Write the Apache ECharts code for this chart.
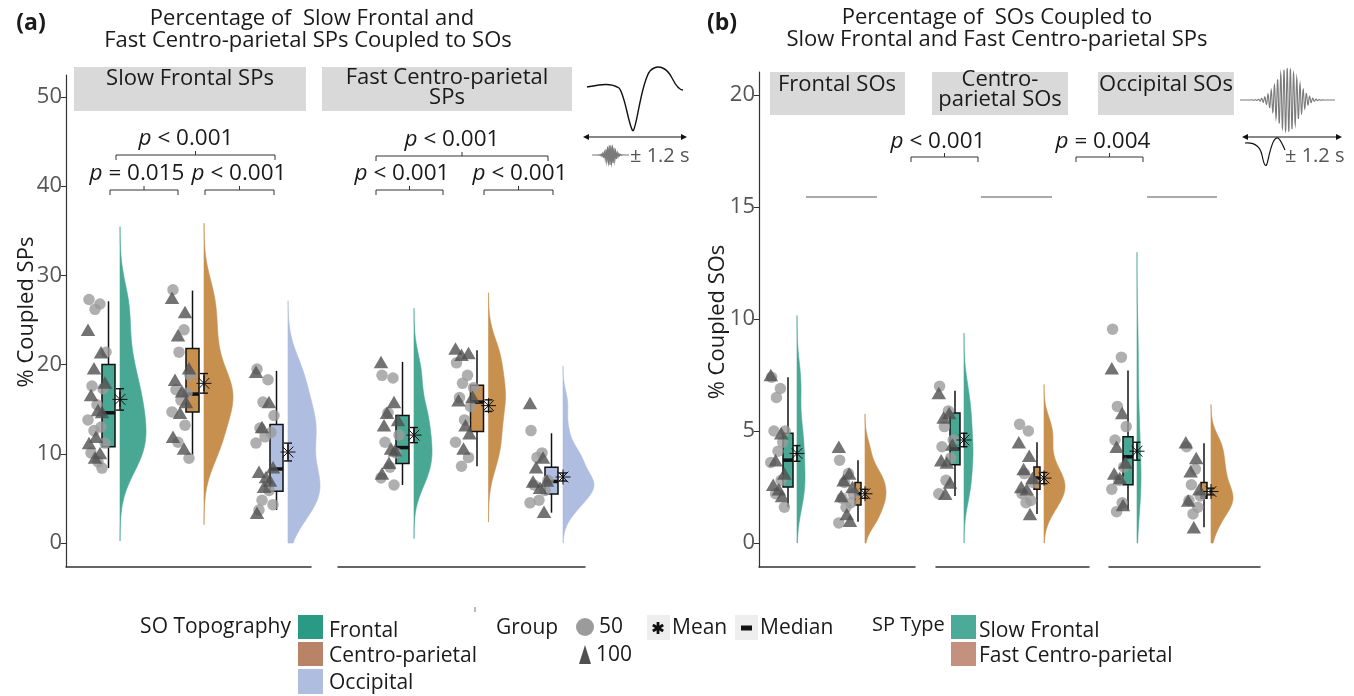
<!DOCTYPE html>
<html><head><meta charset="utf-8">
<style>html,body{margin:0;padding:0;background:#fff}#c{width:1354px;height:696px}</style>
<script src="https://cdn.jsdelivr.net/npm/echarts@6.0.0/dist/echarts.min.js"></script>
</head><body><div id="c"></div>
<script>
// ================= DATA =================
const panelAFacets = ['Slow Frontal SPs', 'Fast Centro-parietal SPs'];
const panelACategories = ['Frontal', 'Centro-parietal', 'Occipital'];
const panelBFacets = ['Frontal SOs', 'Centro-parietal SOs', 'Occipital SOs'];
const panelBCategories = ['Slow Frontal', 'Fast Centro-parietal'];
const yTicksA = [0, 10, 20, 30, 40, 50];
const yTicksB = [0, 5, 10, 15, 20];

// Panel (a), facet "Slow Frontal SPs": % coupled SPs per participant (Group 50 = circles, Group 100 = triangles)
const aSF_Frontal_g50 = [27.3, 26.8, 26.2, 21.4, 17.6, 17.3, 15.5, 13.8, 13.0, 12.6, 11.2, 10.1, 9.1, 8.4];
const aSF_Frontal_g100 = [23.9, 21.4, 19.6, 18.0, 16.6, 14.9, 14.7, 11.9, 11.2, 10.1, 9.6];
const aSF_Centro_g50 = [28.4, 23.9, 21.4, 18.8, 17.2, 16.8, 16.0, 14.7, 13.2, 11.3, 9.5];
const aSF_Centro_g100 = [27.5, 25.9, 23.3, 19.6, 18.3, 17.0, 15.8, 14.6, 11.9, 10.6];
const aSF_Occipital_g50 = [19.5, 18.3, 15.8, 14.3, 12.9, 12.4, 11.9, 11.2, 5.9, 4.8, 4.3, 3.7];
const aSF_Occipital_g100 = [19.2, 15.8, 13.0, 8.5, 8.0, 7.4, 7.0, 6.3, 3.4];
// Panel (a), facet "Fast Centro-parietal SPs"
const aFC_Frontal_g50 = [18.8, 18.5, 14.6, 12.1, 11.3, 10.1, 8.5, 7.3, 6.5];
const aFC_Frontal_g100 = [20.3, 15.8, 14.6, 13.8, 13.2, 10.6, 10.4, 9.0, 7.8];
const aFC_Centro_g50 = [20.2, 18.8, 17.9, 17.4, 16.3, 15.3, 13.8, 11.3, 9.6, 8.6];
const aFC_Centro_g100 = [21.8, 21.3, 21.1, 16.4, 16.0, 13.2, 12.3, 10.6];
const aFC_Occipital_g50 = [12.6, 10.1, 9.6, 7.0, 6.5, 5.9, 4.8, 4.5];
const aFC_Occipital_g100 = [15.7, 9.6, 8.5, 7.0, 6.9, 6.2, 3.5];
// box stats [lower whisker, Q1, median, Q3, upper whisker], mean and SE
const aSF_box = [[8.4, 10.8, 14.6, 20.0, 27.1], [9.9, 14.7, 16.7, 21.8, 28.3], [3.7, 5.8, 8.3, 13.3, 19.3]];
const aFC_box = [[6.5, 8.9, 10.7, 14.3, 20.3], [8.6, 12.5, 15.8, 17.7, 21.6], [3.4, 5.5, 6.9, 8.5, 12.3]];
const aSF_mean = [16.1, 17.9, 10.2];
const aSF_se = [1.2, 1.1, 1.0];
const aFC_mean = [12.1, 15.4, 7.4];
const aFC_se = [0.85, 0.65, 0.45];

// Panel (b): % coupled SOs
const bF_Slow_g50 = [7.4, 6.9, 6.5, 5.0, 5.0, 4.5, 4.1, 3.6, 2.8, 2.2, 1.6];
const bF_Slow_g100 = [7.5, 4.9, 3.7, 3.1, 2.6, 2.4, 2.1];
const bF_Fast_g50 = [3.7, 3.1, 2.7, 2.2, 2.0, 1.8, 1.6, 0.9];
const bF_Fast_g100 = [4.3, 3.1, 2.8, 2.5, 2.1, 1.3, 1.0];
const bC_Slow_g50 = [7.0, 5.9, 5.2, 4.6, 4.3, 3.8, 2.8, 2.2];
const bC_Slow_g100 = [6.7, 5.8, 5.6, 4.4, 3.7, 3.6, 2.7, 2.2];
const bC_Fast_g50 = [5.3, 5.0, 3.1, 2.7, 2.2, 1.9, 1.8];
const bC_Fast_g100 = [4.5, 3.9, 3.3, 2.9, 2.5, 2.4, 1.3];
const bO_Slow_g50 = [9.55, 8.3, 6.1, 5.2, 4.6, 3.4, 2.8, 2.4, 1.8, 1.4];
const bO_Slow_g100 = [7.8, 5.8, 4.3, 3.6, 3.1, 2.9, 1.7];
const bO_Fast_g50 = [4.3, 3.3, 2.6, 2.1, 1.9, 1.6, 1.3];
const bO_Fast_g100 = [4.5, 3.8, 3.2, 2.4, 1.9, 0.7];
const bF_box = [[1.6, 2.5, 3.7, 4.9, 7.4], [0.95, 1.7, 2.2, 2.7, 3.7]];
const bC_box = [[2.1, 3.5, 4.2, 5.8, 6.8], [1.3, 2.4, 2.9, 3.4, 4.5]];
const bO_box = [[1.5, 2.6, 3.85, 4.75, 7.7], [0.7, 2.0, 2.05, 2.7, 4.45]];
const bF_mean = [4.0, 2.2], bF_se = [0.35, 0.2];
const bC_mean = [4.6, 2.9], bC_se = [0.3, 0.25];
const bO_mean = [4.1, 2.3], bO_se = [0.4, 0.15];

// ================= STYLE / LAYOUT =================
const FONT = "'Open Sans', 'DejaVu Sans', sans-serif";
const TEAL = '#48A893', ORANGE = '#C8904F', BLUE = '#AEBDE0';
const CIRC = '#9b9b9b', TRI = '#505050';
const JIT = [-0.8, 0.3, -0.2, 0.9, -0.5, 0.6, 0.0, -0.9, 0.4, -0.3, 0.8, -0.6, 0.1, 0.5, -0.1];
const BW_ADJUST = 1.0;

function grp(g50, g100, box, mean, se, color) { return { g50, g100, box, mean, se, color }; }

const facets = [
  { left: 66, right: 311, top: 75, bottom: 567, ymin: -2.69, ymax: 52.47, ticks: yTicksA, showY: true,
    catPx: [120, 204, 288], vw: [26, 29, 32], boxW: [13, 13, 13], boxGap: 5, ptOff: -23, jit: 10, cap: 4, star: 7.5,
    groups: [grp(aSF_Frontal_g50, aSF_Frontal_g100, aSF_box[0], aSF_mean[0], aSF_se[0], TEAL),
             grp(aSF_Centro_g50, aSF_Centro_g100, aSF_box[1], aSF_mean[1], aSF_se[1], ORANGE),
             grp(aSF_Occipital_g50, aSF_Occipital_g100, aSF_box[2], aSF_mean[2], aSF_se[2], BLUE)] },
  { left: 338, right: 585, top: 75, bottom: 567, ymin: -2.69, ymax: 52.47, ticks: yTicksA, showY: false,
    catPx: [414, 488.5, 563], vw: [18, 17, 31], boxW: [13, 13, 13], boxGap: 5, ptOff: -24, jit: 10, cap: 4, star: 7.5,
    groups: [grp(aFC_Frontal_g50, aFC_Frontal_g100, aFC_box[0], aFC_mean[0], aFC_se[0], TEAL),
             grp(aFC_Centro_g50, aFC_Centro_g100, aFC_box[1], aFC_mean[1], aFC_se[1], ORANGE),
             grp(aFC_Occipital_g50, aFC_Occipital_g100, aFC_box[2], aFC_mean[2], aFC_se[2], BLUE)] },
  { left: 759, right: 915, top: 72, bottom: 567, ymin: -1.07, ymax: 21.03, ticks: yTicksB, showY: true,
    catPx: [797, 865], vw: [8, 21], boxW: [10, 6], boxGap: 4, ptOff: -19, jit: 8, cap: 3.5, star: 7.5,
    groups: [grp(bF_Slow_g50, bF_Slow_g100, bF_box[0], bF_mean[0], bF_se[0], TEAL),
             grp(bF_Fast_g50, bF_Fast_g100, bF_box[1], bF_mean[1], bF_se[1], ORANGE)] },
  { left: 936, right: 1089, top: 72, bottom: 567, ymin: -1.07, ymax: 21.03, ticks: yTicksB, showY: false,
    catPx: [964, 1044], vw: [9, 21], boxW: [10, 6], boxGap: 4, ptOff: -18, jit: 8, cap: 3.5, star: 7.5,
    groups: [grp(bC_Slow_g50, bC_Slow_g100, bC_box[0], bC_mean[0], bC_se[0], TEAL),
             grp(bC_Fast_g50, bC_Fast_g100, bC_box[1], bC_mean[1], bC_se[1], ORANGE)] },
  { left: 1109, right: 1260, top: 72, bottom: 567, ymin: -1.07, ymax: 21.03, ticks: yTicksB, showY: false,
    catPx: [1137, 1211], vw: [4, 22], boxW: [10, 6], boxGap: 4, ptOff: -18, jit: 8, cap: 3.5, star: 7.5,
    groups: [grp(bO_Slow_g50, bO_Slow_g100, bO_box[0], bO_mean[0], bO_se[0], TEAL),
             grp(bO_Fast_g50, bO_Fast_g100, bO_box[1], bO_mean[1], bO_se[1], ORANGE)] }
];

// ---- kernel density (gaussian, nrd0 bandwidth, full tails, cut at 0) ----
function quantile(s, p) { const h = (s.length - 1) * p, lo = Math.floor(h); return s[lo] + (h - lo) * ((s[Math.min(lo + 1, s.length - 1)]) - s[lo]); }
function kde(vals) {
  const n = vals.length, s = vals.slice().sort((a, b) => a - b);
  const m = s.reduce((a, b) => a + b, 0) / n;
  const sd = Math.sqrt(s.reduce((a, b) => a + (b - m) * (b - m), 0) / (n - 1));
  const iqr = quantile(s, 0.75) - quantile(s, 0.25);
  let lo = Math.min(sd, iqr / 1.34); if (!(lo > 0)) lo = sd;
  const bw = BW_ADJUST * 0.9 * lo * Math.pow(n, -0.2);
  const from = Math.max(0, s[0] - 3 * bw), to = s[n - 1] + 3 * bw;
  const out = []; const N = 220;
  for (let i = 0; i <= N; i++) {
    const y = from + (to - from) * i / N;
    let d = 0; for (const v of s) { const z = (y - v) / bw; d += Math.exp(-0.5 * z * z); }
    out.push([y, d / (n * bw * Math.sqrt(2 * Math.PI))]);
  }
  return out;
}

const grids = [], xAxes = [], yAxes = [], series = [];
facets.forEach((f, i) => {
  const n = f.catPx.length;
  const unit = (f.catPx[n - 1] - f.catPx[0]) / (n - 1);
  const xmin = 1 - (f.catPx[0] - f.left) / unit, xmax = 1 + (f.right - f.catPx[0]) / unit;
  f.groups.forEach((g) => { g.kde = kde(g.g50.concat(g.g100)); g.dmax = Math.max(...g.kde.map(p => p[1])); });
  grids.push({ left: f.left, top: f.top, width: f.right - f.left, height: f.bottom - f.top });
  xAxes.push({ gridIndex: i, type: 'value', min: xmin, max: xmax,
    axisLine: { show: true, onZero: false, lineStyle: { color: '#333', width: 1.5 } },
    axisTick: { show: false }, axisLabel: { show: false }, splitLine: { show: false } });
  yAxes.push({ gridIndex: i, type: 'value', min: f.ymin, max: f.ymax, show: f.showY,
    axisLine: { show: true, onZero: false, lineStyle: { color: '#333', width: 1.2 } },
    axisTick: { show: true, length: 5, customValues: f.ticks, lineStyle: { color: '#333' } },
    axisLabel: { customValues: f.ticks, color: '#555', fontSize: 22, margin: 4, fontFamily: FONT },
    splitLine: { show: false } });
  const catData = f.groups.map((g, k) => [k + 1, 0]);
  // half violins
  series.push({ type: 'custom', xAxisIndex: i, yAxisIndex: i, z: 1, silent: true, data: catData,
    renderItem: (params, api) => {
      const k = params.dataIndex, g = f.groups[k], x = k + 1, w = f.vw[k];
      const poly = g.kde.map(([y, d]) => { const p = api.coord([x, y]); return [p[0] + w * d / g.dmax, p[1]]; });
      poly.push(api.coord([x, g.kde[g.kde.length - 1][0]]));
      poly.push(api.coord([x, g.kde[0][0]]));
      return { type: 'polygon', shape: { points: poly }, style: { fill: g.color, stroke: g.color, lineWidth: 0.6 } };
    } });
  // boxplots
  series.push({ type: 'custom', xAxisIndex: i, yAxisIndex: i, z: 2, silent: true, data: catData,
    renderItem: (params, api) => {
      const k = params.dataIndex, g = f.groups[k], x = k + 1, b = g.box;
      const base = api.coord([x, 0])[0];
      const right = base - f.boxGap, left = right - f.boxW[k], cx = (left + right) / 2;
      const py = v => api.coord([x, v])[1];
      const ls = { stroke: '#111', lineWidth: 1.5 };
      return { type: 'group', children: [
        { type: 'line', shape: { x1: cx, y1: py(b[4]), x2: cx, y2: py(b[3]) }, style: ls },
        { type: 'line', shape: { x1: cx, y1: py(b[1]), x2: cx, y2: py(b[0]) }, style: ls },
        { type: 'rect', shape: { x: left, y: py(b[3]), width: right - left, height: py(b[1]) - py(b[3]) }, style: { fill: g.color, stroke: '#111', lineWidth: 1.5 } },
        { type: 'line', shape: { x1: left, y1: py(b[2]), x2: right, y2: py(b[2]) }, style: { stroke: '#111', lineWidth: 3.5 } }
      ] };
    } });
  // raw points
  const circ = [], tri = [];
  f.groups.forEach((g, k) => {
    g.g50.forEach((v, j) => circ.push([k + 1 + (f.ptOff + JIT[j % JIT.length] * f.jit) / unit, v]));
    g.g100.forEach((v, j) => tri.push([k + 1 + (f.ptOff + JIT[(j + 7) % JIT.length] * f.jit) / unit, v]));
  });
  series.push({ type: 'scatter', xAxisIndex: i, yAxisIndex: i, z: 3, silent: true, symbol: 'circle', symbolSize: 11.5,
    itemStyle: { color: CIRC }, data: circ });
  series.push({ type: 'scatter', xAxisIndex: i, yAxisIndex: i, z: 3, silent: true, symbol: 'triangle', symbolSize: [14.5, 12.5],
    itemStyle: { color: TRI }, data: tri });
  // mean +- SE with asterisk
  series.push({ type: 'custom', xAxisIndex: i, yAxisIndex: i, z: 4, silent: true, data: catData,
    renderItem: (params, api) => {
      const k = params.dataIndex, g = f.groups[k], x = k + 1;
      const c = api.coord([x, g.mean]);
      const t = api.coord([x, g.mean + g.se])[1], bt = api.coord([x, g.mean - g.se])[1];
      const s = { stroke: '#111', lineWidth: 1.4 }, r = f.star, q = r * 0.72, cp = f.cap;
      const th = { stroke: '#111', lineWidth: 1 };
      return { type: 'group', children: [
        { type: 'line', shape: { x1: c[0], y1: t, x2: c[0], y2: bt }, style: s },
        { type: 'line', shape: { x1: c[0] - cp, y1: t, x2: c[0] + cp, y2: t }, style: s },
        { type: 'line', shape: { x1: c[0] - cp, y1: bt, x2: c[0] + cp, y2: bt }, style: s },
        { type: 'line', shape: { x1: c[0] - r, y1: c[1], x2: c[0] + r, y2: c[1] }, style: th },
        { type: 'line', shape: { x1: c[0], y1: c[1] - r, x2: c[0], y2: c[1] + r }, style: th },
        { type: 'line', shape: { x1: c[0] - q, y1: c[1] - q, x2: c[0] + q, y2: c[1] + q }, style: th },
        { type: 'line', shape: { x1: c[0] - q, y1: c[1] + q, x2: c[0] + q, y2: c[1] - q }, style: th }
      ] };
    } });
});

// ================= ANNOTATIONS / TEXT =================
const G = [];
function T(x, y, text, o = {}) {
  const size = o.size || 21;
  G.push({ type: 'text', x, y, rotation: o.rot || 0, z: 100, silent: true,
    style: { text, fill: o.color || '#1a1a1a', fontSize: size, fontFamily: FONT, fontWeight: o.weight || 'normal',
      align: o.align || 'center', verticalAlign: 'middle', textAlign: o.align || 'center', textVerticalAlign: 'middle',
      rich: { i: { fontStyle: 'italic', fontSize: size, fontFamily: FONT, fill: o.color || '#1a1a1a' } } } });
}
function R(x, y, w, h, fill) { G.push({ type: 'rect', z: 90, silent: true, shape: { x, y, width: w, height: h }, style: { fill } }); }
function L(pts, stroke = '#333', lw = 1) { G.push({ type: 'polyline', z: 100, silent: true, shape: { points: pts }, style: { stroke, lineWidth: lw, fill: null } }); }
function B(x1, y1, cx1, cy1, cx2, cy2, x2, y2, lw) {
  G.push({ type: 'bezierCurve', z: 100, silent: true, shape: { x1, y1, cpx1: cx1, cpy1: cy1, cpx2: cx2, cpy2: cy2, x2, y2 }, style: { stroke: '#111', lineWidth: lw, fill: null } });
}
function bracket(y, x1, x2) { L([[x1, y + 5], [x1, y], [x2, y], [x2, y + 5]]); const m = (x1 + x2) / 2; L([[m, y], [m, y - 4]]); }

// panel labels and titles
T(31, 23, '(a)', { size: 23, weight: 'bold' });
T(722, 23, '(b)', { size: 23, weight: 'bold' });
T(312, 19, 'Percentage of  Slow Frontal and', { size: 22 });
T(308, 41, 'Fast Centro-parietal SPs Coupled to SOs', { size: 22 });
T(997, 18, 'Percentage of  SOs Coupled to', { size: 22 });
T(997, 40, 'Slow Frontal and Fast Centro-parietal SPs', { size: 22 });
// axis titles
T(27, 312, '% Coupled SPs', { rot: Math.PI / 2, size: 22 });
T(718, 322, '% Coupled SOs', { rot: Math.PI / 2, size: 22 });
// facet strips
R(74, 67, 232, 44, '#d9d9d9'); T(190, 79, panelAFacets[0], { size: 22 });
R(322, 67, 250, 44, '#d9d9d9'); T(447, 78, 'Fast Centro-parietal', { size: 22 }); T(447, 98, 'SPs', { size: 22 });
R(770, 72, 135, 43, '#d9d9d9'); T(837, 85, panelBFacets[0], { size: 22 });
R(932, 72, 136, 43, '#d9d9d9'); T(1000, 80, 'Centro-', { size: 22 }); T(1000, 100, 'parietal SOs', { size: 22 });
R(1098, 72, 136, 43, '#d9d9d9'); T(1166, 85, panelBFacets[2], { size: 22 });
// significance brackets
const PS = 22.5;
T(186, 139, '{i|p} < 0.001', { size: PS }); bracket(155, 116, 275);
T(137, 174, '{i|p} = 0.015', { size: PS }); bracket(190, 110, 178);
T(239, 174, '{i|p} < 0.001', { size: PS }); bracket(190, 205, 274);
T(452, 140, '{i|p} < 0.001', { size: PS }); bracket(156, 376, 548);
T(402, 174, '{i|p} < 0.001', { size: PS }); bracket(190, 376, 443);
T(520, 174, '{i|p} < 0.001', { size: PS }); bracket(190, 484, 553);
T(938, 142, '{i|p} < 0.001', { size: PS }); bracket(157, 911, 978);
T(1103, 142, '{i|p} = 0.004', { size: PS }); bracket(157, 1076, 1143);
L([[806, 197], [877, 197]], '#555', 1);
L([[981, 197], [1052, 197]], '#555', 1);
L([[1147, 197], [1217, 197]], '#555', 1);

// icons (panel a: SO waveform + spindle; panel b: spindle + SO)
B(587, 87, 598, 85, 610, 82, 619, 88, 1.4);
B(619, 88, 625, 94, 629, 128, 633, 131, 1.4);
B(633, 131, 637, 128, 641, 82, 650, 71, 1.4);
B(650, 71, 658, 63, 667, 68, 672, 78, 1.4);
B(672, 78, 676, 86, 680, 90, 683, 90, 1.4);
function arrow(x1, x2, y) {
  L([[x1 + 3, y], [x2 - 3, y]], '#111', 1.2);
  G.push({ type: 'polygon', z: 100, silent: true, shape: { points: [[x1, y], [x1 + 6, y - 3], [x1 + 6, y + 3]] }, style: { fill: '#111' } });
  G.push({ type: 'polygon', z: 100, silent: true, shape: { points: [[x2, y], [x2 - 6, y - 3], [x2 - 6, y + 3]] }, style: { fill: '#111' } });
}
arrow(583, 687, 137);
function spindle(x0, x1, yc, amp, sig, per, color) {
  const pts = []; const xc = (x0 + x1) / 2;
  for (let x = x0; x <= x1; x += 0.25) pts.push([x, yc + amp * Math.exp(-Math.pow((x - xc) / sig, 2)) * Math.sin(2 * Math.PI * (x - x0) / per)]);
  L(pts, color, 1.1);
}
spindle(592, 629, 155, 10, 6, 1.6, '#7a7a7a');
T(630, 156, '± 1.2 s', { align: 'left', size: 20, color: '#555' });
spindle(1240, 1335, 100, 32, 15, 3.2, '#7a7a7a');
arrow(1242, 1342, 137);
B(1245, 143, 1255, 142, 1260, 146, 1262, 155, 1.2);
B(1262, 155, 1264, 165, 1266, 170, 1268, 160, 1.2);
B(1268, 160, 1271, 146, 1274, 137, 1278, 138, 1.2);
B(1278, 138, 1281, 140, 1283, 146, 1285, 150, 1.2);
T(1285, 156, '± 1.2 s', { align: 'left', size: 20, color: '#555' });

// legend
T(291, 627, 'SO Topography', { align: 'right' });
R(298, 615, 25, 24, '#2A9A84'); T(329, 631, panelACategories[0], { align: 'left' });
R(298, 642, 25, 24, '#B98367'); T(329, 656, panelACategories[1], { align: 'left' });
R(298, 669, 25, 25, '#AFBDDF'); T(329, 683, panelACategories[2], { align: 'left' });
T(496, 628, 'Group', { align: 'left' });
G.push({ type: 'circle', z: 100, silent: true, shape: { cx: 585, cy: 627, r: 9 }, style: { fill: CIRC } });
G.push({ type: 'polygon', z: 100, silent: true, shape: { points: [[585, 645], [579, 664], [591, 664]] }, style: { fill: TRI } });
T(599, 627, '50', { align: 'left' });
T(596, 655, '100', { align: 'left' });
R(647, 615, 23, 25, '#eeeeee');
[0, 60, 120].forEach(a => { const r = 6, t = a * Math.PI / 180; L([[658 - r * Math.sin(t), 628 - r * Math.cos(t)], [658 + r * Math.sin(t), 628 + r * Math.cos(t)]], '#111', 2.8); });
T(672, 628, 'Mean', { align: 'left' });
R(735, 615, 23, 25, '#eeeeee');
L([[741, 628], [752, 628]], '#111', 5);
T(760, 628, 'Median', { align: 'left' });
T(872, 625, 'SP Type', { align: 'left', size: 20 });
R(951, 615, 25, 24, '#4BAA98'); T(979, 631, panelBCategories[0], { align: 'left' });
R(951, 642, 25, 24, '#C4917E'); T(979, 656, panelBCategories[1], { align: 'left' });
L([[475, 607], [475, 612]], '#777', 1);

const chart = echarts.init(document.getElementById('c'));
chart.setOption({ animation: false, backgroundColor: '#fff', grid: grids, xAxis: xAxes, yAxis: yAxes, series, graphic: G });
</script></body></html>
